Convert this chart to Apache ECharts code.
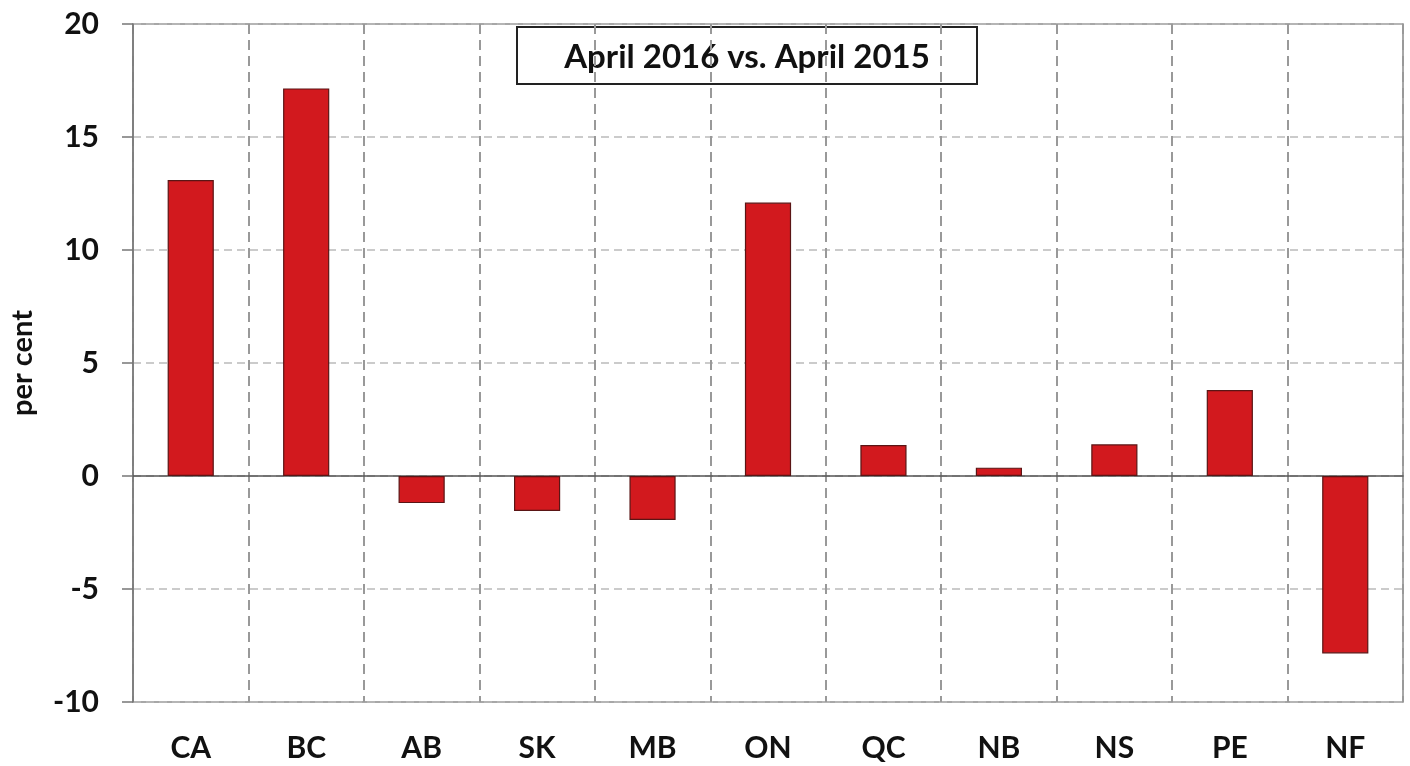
<!DOCTYPE html>
<html>
<head>
<meta charset="utf-8">
<script src="https://cdn.jsdelivr.net/npm/echarts@6/dist/echarts.min.js"></script>
<style>html,body{margin:0;padding:0;background:#fff}#c{width:1410px;height:766px}</style>
</head>
<body>
<div id="c"></div>
<script>
const categories = ['CA','BC','AB','SK','MB','ON','QC','NB','NS','PE','NF'];
const values = [13.1, 17.15, -1.2, -1.55, -1.95, 12.1, 1.37, 0.37, 1.4, 3.8, -7.85];
const titleText = 'April 2016 vs. April 2015';
const yName = 'per cent';

const FONT = 'Lato';
const chart = echarts.init(document.getElementById('c'));
chart.setOption({
  animation: false,
  backgroundColor: '#fff',
  grid: {left: 126, right: 7, top: 24, bottom: 64, show: true, borderColor: '#8a8a8a', borderWidth: 1.5},
  graphic: [{
    type: 'group', left: 516, top: 26,
    children: [
      {type: 'rect', shape: {x: 0, y: 0, width: 460, height: 57}, style: {fill: '#fff', stroke: '#222', lineWidth: 2}},
      {type: 'text', x: 230, y: 30, style: {text: titleText, fill: '#111', font: 'bold 33px ' + FONT, textAlign: 'center', textVerticalAlign: 'middle'}}
    ]
  }],
  xAxis: {
    type: 'category', data: categories,
    axisLine: {onZero: true, lineStyle: {color: '#555', width: 1.5}},
    axisTick: {show: false},
    axisLabel: {color: '#111', fontFamily: FONT, fontWeight: 'bold', fontSize: 30, margin: 31},
    splitLine: {show: true, lineStyle: {color: '#999', type: [10, 6], width: 2}}
  },
  yAxis: {
    type: 'value', min: -10, max: 20, interval: 5,
    name: yName, nameLocation: 'middle', nameRotate: 90, nameGap: 96,
    nameTextStyle: {color: '#111', fontFamily: FONT, fontWeight: 'bold', fontSize: 29},
    axisLine: {show: true, onZero: false, lineStyle: {color: '#777', width: 1.5}},
    axisTick: {show: true, length: 11, lineStyle: {color: '#777', width: 1.5}},
    axisLabel: {color: '#111', fontFamily: FONT, fontWeight: 'bold', fontSize: 30, margin: 34},
    splitLine: {show: true, lineStyle: {color: '#bbb', type: [8, 5], width: 1.5}}
  },
  series: [{
    type: 'bar', data: values, barWidth: '40%',
    itemStyle: {color: '#D2191E', borderColor: '#5a1515', borderWidth: 1.2}
  }]
});
</script>
</body>
</html>
